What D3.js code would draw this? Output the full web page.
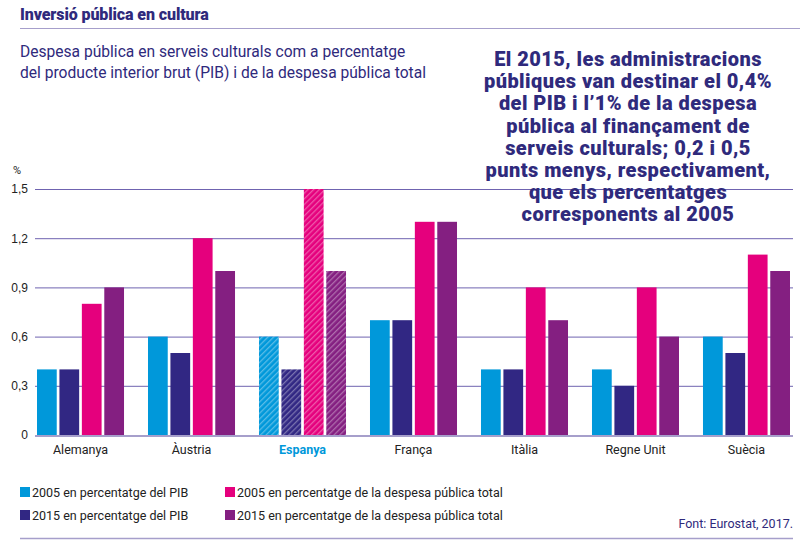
<!DOCTYPE html>
<html>
<head>
<meta charset="utf-8">
<script src="https://cdn.jsdelivr.net/npm/d3@7"></script>
<style>
body { margin: 0; background: #fff; }
svg { display: block; font-family: Roboto, "Liberation Sans", sans-serif; }
.tick text { font-size: 12px; fill: #222; }
</style>
</head>
<body>
<div class="chart"></div>
<script>
var countries = ["Alemanya", "Àustria", "Espanya", "França", "Itàlia", "Regne Unit", "Suècia"];
var seriesNames = ["2005 en percentatge del PIB", "2015 en percentatge del PIB",
	"2005 en percentatge de la despesa pública total", "2015 en percentatge de la despesa pública total"];
var pib2005 = [0.4, 0.6, 0.6, 0.7, 0.4, 0.4, 0.6];
var pib2015 = [0.4, 0.5, 0.4, 0.7, 0.4, 0.3, 0.5];
var desp2005 = [0.8, 1.2, 1.5, 1.3, 0.9, 0.9, 1.1];
var desp2015 = [0.9, 1.0, 1.0, 1.3, 0.7, 0.6, 1.0];
var yTicks = [0, 0.3, 0.6, 0.9, 1.2, 1.5];
var highlight = "Espanya";
var noteLines = ["El 2015, les administracions", "públiques van destinar el 0,4%",
	"del PIB i l’1% de la despesa", "pública al finançament de",
	"serveis culturals; 0,2 i 0,5", "punts menys, respectivament,",
	"que els percentatges", "corresponents al 2005"];

var width = 800, height = 542,
colors = ["#0098da", "#312783", "#e5007d", "#841f81"],
ink = "#2f2a7c",
rule = "#a69fcb";

var series = [pib2005, pib2015, desp2005, desp2015];
var data = countries.map(function(c, i) {
	return { country: c, values: series.map(function(s, k) { return { key: k, v: s[i] }; }) };
});

var svg = d3.select("div.chart").append("svg")
	.attr("width", width)
	.attr("height", height);

// hatch patterns for the highlighted country
var defs = svg.append("defs");
colors.forEach(function(col, k) {
	var p = defs.append("pattern")
		.attr("id", "hatch" + k)
		.attr("patternUnits", "userSpaceOnUse")
		.attr("width", 4).attr("height", 4)
		.attr("patternTransform", "rotate(45)");
	p.append("rect").attr("width", 4).attr("height", 4).attr("fill", col);
	p.append("rect").attr("width", 1.3).attr("height", 4).attr("fill", "#fff").attr("opacity", 0.35);
});

// header
svg.append("text")
	.attr("x", 20).attr("y", 20)
	.attr("font-size", 16).attr("font-weight", 900)
	.attr("fill", ink)
	.attr("letter-spacing", -0.1)
	.text("Inversió pública en cultura");
svg.append("line")
	.attr("x1", 20).attr("x2", width).attr("y1", 28.5).attr("y2", 28.5)
	.attr("stroke", rule).attr("stroke-width", 1);

svg.selectAll(".sub")
	.data(["Despesa pública en serveis culturals com a percentatge",
		"del producte interior brut (PIB) i de la despesa pública total"])
	.enter().append("text")
	.attr("class", "sub")
	.attr("x", 20).attr("y", function(d, i) { return 57 + i * 21; })
	.attr("font-size", 15.6)
	.attr("fill", ink)
	.text(function(d) { return d; });

var x0 = d3.scaleBand()
	.domain(countries)
	.range([37, 790])
	.paddingInner(0.216)
	.paddingOuter(0);

var x1 = d3.scaleBand()
	.domain(d3.range(series.length))
	.range([0, x0.bandwidth()])
	.paddingInner(0.12);

var y = d3.scaleLinear()
	.domain([0, 1.5])
	.range([435, 189]);

var gridLayer = svg.append("g");
var barLayer = svg.append("g");

var fmt = function(d) { return d === 0 ? "0" : d3.format(".1f")(d).replace(".", ","); };

var yAxis = gridLayer.append("g")
	.attr("transform", "translate(35,0)")
	.call(d3.axisLeft(y).tickValues(yTicks).tickSize(-758).tickPadding(6).tickFormat(fmt));
yAxis.select(".domain").remove();
yAxis.selectAll(".tick line").attr("stroke", "#6f63b0").attr("stroke-width", 1);
yAxis.selectAll(".tick text").attr("x", -7);

gridLayer.append("text")
	.attr("x", 13).attr("y", 174)
	.attr("font-size", 11).attr("fill", "#222")
	.text("%");

barLayer.selectAll(".group")
	.data(data)
	.enter().append("g")
	.attr("class", "group")
	.attr("transform", function(d) { return "translate(" + x0(d.country) + ",0)"; })
	.selectAll("rect")
	.data(function(d) { return d.values.map(function(v) { return { key: v.key, v: v.v, country: d.country }; }); })
	.enter().append("rect")
	.attr("x", function(d) { return x1(d.key); })
	.attr("width", x1.bandwidth())
	.attr("y", function(d) { return y(d.v); })
	.attr("height", function(d) { return y(0) - y(d.v); })
	.attr("fill", function(d) { return d.country === highlight ? "url(#hatch" + d.key + ")" : colors[d.key]; });

// baseline
svg.append("line")
	.attr("x1", 35).attr("x2", 793).attr("y1", y(0) + 1).attr("y2", y(0) + 1)
	.attr("stroke", rule).attr("stroke-width", 2);

// country labels
svg.selectAll(".clabel")
	.data(countries)
	.enter().append("text")
	.attr("class", "clabel")
	.attr("x", function(d) { return x0(d) + x0.bandwidth() / 2; })
	.attr("y", 454)
	.attr("text-anchor", "middle")
	.attr("font-size", 12.5)
	.attr("font-weight", function(d) { return d === highlight ? 700 : 400; })
	.attr("fill", function(d) { return d === highlight ? colors[0] : "#222"; })
	.text(function(d) { return d; });

// annotation
svg.selectAll(".note")
	.data(noteLines)
	.enter().append("text")
	.attr("class", "note")
	.attr("x", 628)
	.attr("y", function(d, i) { return 66 + i * 22.2; })
	.attr("text-anchor", "middle")
	.attr("font-size", 20).attr("font-weight", 900)
	.attr("letter-spacing", 0.45)
	.attr("fill", ink)
	.text(function(d) { return d; });

// legend
var legendPos = [[20, 497], [20, 520], [225, 497], [225, 520]];
var legend = svg.selectAll(".legend")
	.data(seriesNames)
	.enter().append("g")
	.attr("class", "legend")
	.attr("transform", function(d, i) { return "translate(" + legendPos[i][0] + "," + legendPos[i][1] + ")"; });
legend.append("rect")
	.attr("x", 0).attr("y", -10).attr("width", 10).attr("height", 10)
	.attr("fill", function(d, i) { return colors[i]; });
legend.append("text")
	.attr("x", 12).attr("y", 0)
	.attr("font-size", 12.5).attr("fill", "#222")
	.text(function(d) { return d; });

svg.append("text")
	.attr("x", 793).attr("y", 528)
	.attr("text-anchor", "end")
	.attr("font-size", 12.5).attr("fill", ink)
	.text("Font: Eurostat, 2017.");

svg.append("line")
	.attr("x1", 20).attr("x2", 793).attr("y1", 538.5).attr("y2", 538.5)
	.attr("stroke", rule).attr("stroke-width", 1.5);
</script>
</body>
</html>
